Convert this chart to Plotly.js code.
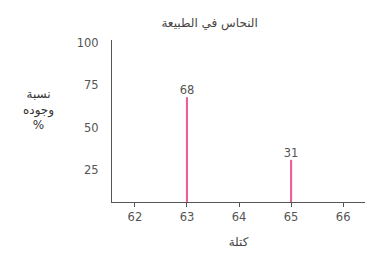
<!DOCTYPE html>
<html><head><meta charset="utf-8">
<script src="https://cdn.plot.ly/plotly-3.0.1.min.js"></script>
<style>body{margin:0;background:#fff}#c{width:371px;height:257px}</style>
</head><body><div id="c"></div>
<script>
const masses = [63, 65];
const abundance = [68, 31];
const labels = ['68', '31'];
const xTicks = [62, 63, 64, 65, 66];
const yTicks = [25, 50, 75, 100];
const titleText = 'النحاس في الطبيعة';
const yTitle = 'نسبة<br>وجوده<br>%';
const xTitle = 'كتلة';

const gray = '#555';
const font = {family: 'DejaVu Sans, sans-serif', size: 11.5, color: '#555'};

Plotly.newPlot('c', [
  {type: 'bar', x: masses, y: abundance, width: 0.04,
   marker: {color: '#ea5f98'}, hoverinfo: 'none'},
  {type: 'scatter', mode: 'text', x: masses, y: abundance, text: labels,
   textposition: 'top center', textfont: font, hoverinfo: 'none'}
], {
  width: 371, height: 257,
  margin: {l: 112, r: 6, t: 40, b: 55},
  paper_bgcolor: '#fff', plot_bgcolor: '#fff',
  showlegend: false,
  font: font,
  title: {text: titleText, x: 0.565, xanchor: 'center', y: 0.91, yanchor: 'middle',
          font: {family: 'DejaVu Sans, sans-serif', size: 12, color: '#444'}},
  xaxis: {range: [61.56, 66.42], tickvals: xTicks, ticks: 'outside', ticklen: 4,
          tickcolor: gray, showline: true, linecolor: gray, linewidth: 1,
          showgrid: false, zeroline: false, tickfont: font,
          title: {text: xTitle, standoff: 14, font: {family: 'DejaVu Sans, sans-serif', size: 12, color: '#444'}}},
  yaxis: {range: [6.1, 101.8], tickvals: yTicks, ticks: '', showline: true,
          linecolor: gray, linewidth: 1, showgrid: false, zeroline: false,
          tickfont: font, ticklabelstandoff: 10},
  annotations: [{text: yTitle, xref: 'paper', yref: 'paper', x: -0.29, y: 0.57,
                 xanchor: 'center', yanchor: 'middle', showarrow: false,
                 font: {family: 'DejaVu Sans, sans-serif', size: 12, color: '#333'}}]
}, {staticPlot: true});
</script></body></html>
